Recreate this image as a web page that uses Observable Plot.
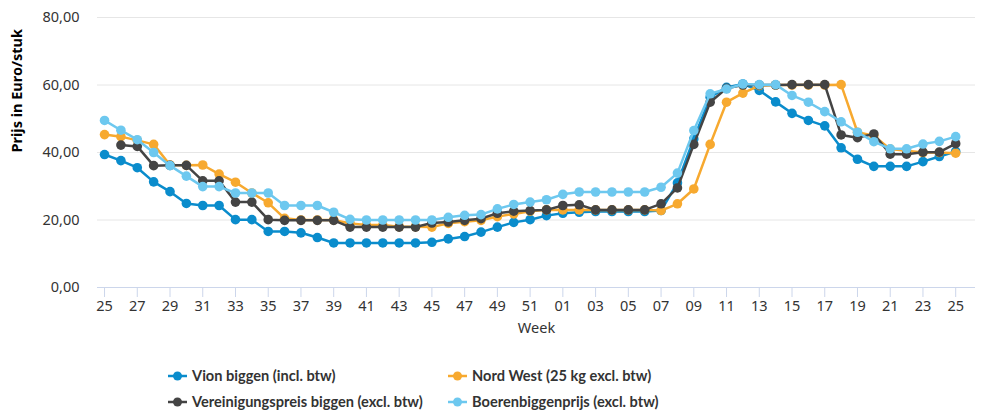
<!DOCTYPE html>
<html>
<head>
<meta charset="utf-8">
<script src="https://cdn.jsdelivr.net/npm/d3@7"></script>
<script src="https://cdn.jsdelivr.net/npm/@observablehq/plot@0.6"></script>
<style>
  html, body { margin: 0; padding: 0; background: #fff; }
  #wrap { position: relative; width: 990px; height: 413px; font-family: "Noto Sans", sans-serif; }
  .leg { position: absolute; height: 20px; line-height: 20px; font-family: Lato, "Noto Sans", sans-serif; font-size: 14.6px; font-weight: bold; color: #333; display: flex; align-items: center; white-space: nowrap; }
  .leg svg { margin-right: 5px; }
</style>
</head>
<body>
<div id="wrap"></div>
<script>
const weeks = ["25","26","27","28","29","30","31","32","33","34","35","36","37","38","39","40","41","42","43","44","45","46","47","48","49","50","51","52",
               "01","02","03","04","05","06","07","08","09","10","11","12","13","14","15","16","17","18","19","20","21","22","23","24","25"];

const seriesNames = ["Vion biggen (incl. btw)", "Nord West (25 kg excl. btw)", "Vereinigungspreis biggen (excl. btw)", "Boerenbiggenprijs (excl. btw)"];
const seriesColors = ["#0a8ccc", "#f7a92f", "#444444", "#6dc8ef"];

const vion = [39.4,37.6,35.5,31.3,28.4,24.9,24.3,24.3,20.1,20.1,16.6,16.6,16.2,14.8,13.2,13.2,13.2,13.2,13.2,13.2,13.4,14.4,15.1,16.4,17.9,19.3,20.1,21.3,
              22.0,22.3,22.5,22.5,22.5,22.5,22.8,31.0,44.0,56.4,59.3,60.3,58.4,55.0,51.6,49.5,47.9,41.4,38.0,35.9,35.9,35.9,37.3,38.8,40.3];
const nordWest = [45.3,44.7,43.6,42.4,36.3,36.2,36.3,33.6,31.2,28.0,25.1,20.5,20.0,20.0,20.0,19.0,18.5,18.5,18.0,18.0,17.9,19.0,19.5,19.9,21.0,21.8,22.6,23.0,
                  23.0,23.0,23.0,23.0,23.0,23.0,22.8,24.8,29.2,42.4,54.9,57.6,59.8,60.0,60.0,60.0,60.0,60.1,46.0,45.0,41.0,40.5,40.0,40.0,39.8];
const vereinigung = [null,42.2,41.8,36.1,36.2,36.2,31.6,31.6,25.3,25.3,20.1,19.9,19.9,19.9,19.9,17.9,17.9,17.9,17.9,17.9,19.1,19.4,19.9,20.4,22.0,22.6,22.8,23.0,
                     24.3,24.5,23.0,23.0,23.0,23.0,24.8,29.5,42.4,54.9,59.0,60.0,60.0,60.0,60.1,60.1,60.1,45.2,44.4,45.5,39.5,39.5,40.1,40.1,42.6];
const boeren = [49.5,46.6,43.8,40.0,36.1,33.0,29.9,29.9,28.0,28.0,28.0,24.3,24.3,24.3,22.3,20.2,20.0,20.0,20.0,20.0,20.0,20.8,21.4,21.6,23.3,24.6,25.3,26.0,
                27.6,28.3,28.3,28.3,28.3,28.3,29.7,33.9,46.5,57.4,58.8,60.3,60.1,60.1,56.9,54.9,52.1,49.1,46.0,43.2,41.1,41.1,42.5,43.3,44.7];

const yTicks = [0, 20, 40, 60, 80];
const xTickIdx = d3.range(0, weeks.length, 2);

const allValues = [vion, nordWest, vereinigung, boeren];
const table = allValues.flatMap((vals, s) =>
  vals.map((v, i) => ({ i, week: weeks[i], value: v, series: seriesNames[s] })));

const fmt = d => d.toFixed(2).replace(".", ",");

const marks = [
  Plot.ruleY(yTicks.filter(d => d > 0), { stroke: "#e6e6e6", strokeWidth: 1 }),
  Plot.ruleY([0], { stroke: "#ccd6eb", strokeWidth: 1 }),
  Plot.axisX({ ticks: xTickIdx, tickFormat: i => weeks[i], tickSize: 10, tickPadding: 3, stroke: "#ccd6eb", fill: "#333", label: null }),
  Plot.axisY({ ticks: yTicks, tickFormat: fmt, tickSize: 0, tickPadding: 18, fill: "#333", label: null }),
  Plot.text(["Week"], { frameAnchor: "bottom", dy: 45, fill: "#333", fontSize: 14.5 }),
  Plot.text(["Prijs in Euro/stuk"], { frameAnchor: "left", dx: -80, rotate: -90, fill: "#000", fontSize: 14.5, fontWeight: "bold" })
];
seriesNames.forEach((name, s) => {
  const d = table.filter(r => r.series === name);
  marks.push(Plot.line(d, { x: "i", y: "value", stroke: seriesColors[s], strokeWidth: 2.5, curve: "linear" }));
  marks.push(Plot.dot(d.filter(r => r.value != null), { x: "i", y: "value", fill: seriesColors[s], r: 4.8, stroke: "none" }));
});

const chart = Plot.plot({
  width: 990,
  height: 345,
  marginLeft: 97,
  marginRight: 15,
  marginTop: 17,
  marginBottom: 58,
  style: { fontFamily: "Noto Sans, sans-serif", fontSize: "14.5px", background: "#fff" },
  x: { type: "linear", domain: [-0.43, 53.21], axis: null },
  y: { domain: [0, 80], axis: null },
  marks
});
const wrap = document.getElementById("wrap");
wrap.appendChild(chart);

const legendPos = [[168, 366], [448, 366], [168, 392], [448, 392]];
seriesNames.forEach((name, s) => {
  const item = document.createElement("div");
  item.className = "leg";
  item.style.left = legendPos[s][0] + "px";
  item.style.top = legendPos[s][1] + "px";
  item.innerHTML = `<svg width="19" height="12"><line x1="0" y1="6" x2="19" y2="6" stroke="${seriesColors[s]}" stroke-width="2.5"/><circle cx="9.5" cy="6" r="4.5" fill="${seriesColors[s]}"/></svg><span>${name}</span>`;
  wrap.appendChild(item);
});
</script>
</body>
</html>
